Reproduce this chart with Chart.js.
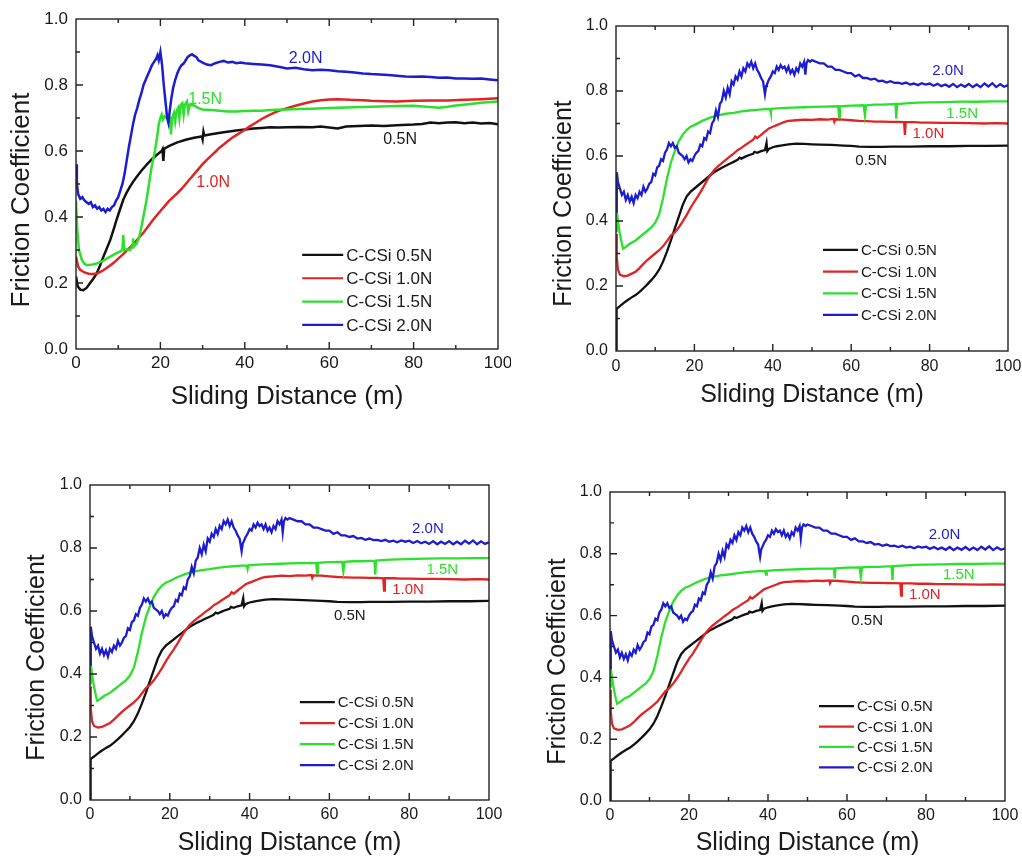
<!DOCTYPE html>
<html>
<head>
<meta charset="utf-8">
<script src="https://cdn.jsdelivr.net/npm/chart.js@4.4.1/dist/chart.umd.min.js"></script>
<style>
  body { margin: 0; background: #fff; width: 1022px; height: 856px; position: relative; overflow: hidden; }
  canvas { position: absolute; }
</style>
</head>
<body>
<canvas id="c1" width="511" height="420" style="left:0;top:0"></canvas>
<canvas id="c2" width="511" height="420" style="left:511px;top:0"></canvas>
<canvas id="c3" width="511" height="426" style="left:0;top:430px"></canvas>
<canvas id="c4" width="511" height="426" style="left:511px;top:430px"></canvas>
<script>
// series info
const loadNames = ['C-CSi 0.5N', 'C-CSi 1.0N', 'C-CSi 1.5N', 'C-CSi 2.0N']
const loadTags = ['0.5N', '1.0N', '1.5N', '2.0N']
const loadColors = ['#111111', '#e02424', '#2ee02e', '#1d1dcf']
const xTickValues = [0, 20, 40, 60, 80, 100]
const yTickValues = [0, 0.2, 0.4, 0.6, 0.8, 1.0]

// panel 1 (top left) : [distance m, friction coefficient]
const p1Load05 = [[0,0.22],[0.4,0.19],[1,0.18],[1.7,0.178],[2.5,0.185],[3.3,0.199],[4.1,0.213],[4.9,0.229],[5.7,0.253],[6.5,0.28],[7.3,0.305],[8.1,0.33],[8.9,0.362],[9.6,0.391],[10.4,0.422],[11.2,0.452],[12,0.474],[12.8,0.492],[13.6,0.508],[14.4,0.522],[15.5,0.54],[16.7,0.558],[18,0.575],[19.1,0.588],[20.3,0.6],[20.5,0.605],[20.7,0.57],[20.9,0.607],[22,0.615],[24,0.626],[26,0.634],[28,0.64],[29.8,0.644],[30,0.635],[30.2,0.658],[30.4,0.647],[32,0.651],[35,0.657],[38,0.662],[40,0.665],[42,0.668],[44,0.67],[46,0.672],[48,0.671],[50,0.672],[53,0.673],[56,0.672],[58,0.674],[60,0.671],[62,0.668],[64,0.674],[67,0.676],[70,0.677],[73,0.676],[76,0.678],[80,0.68],[82,0.682],[84,0.686],[86,0.684],[88,0.686],[90,0.687],[92,0.684],[94,0.686],[96,0.683],[98,0.685],[100,0.681]]
const p1Load10 = [[0,0.28],[0.5,0.25],[1,0.24],[2,0.232],[3,0.228],[4,0.227],[5,0.229],[6,0.235],[7,0.243],[8,0.252],[9,0.262],[10,0.274],[11,0.285],[12,0.298],[13,0.31],[14,0.324],[15,0.338],[16,0.353],[17,0.37],[18,0.387],[19,0.403],[20,0.418],[21,0.433],[22,0.448],[23,0.46],[24,0.472],[25,0.485],[26,0.5],[27,0.515],[28,0.53],[29,0.545],[30,0.56],[31,0.573],[32,0.585],[33,0.597],[34,0.61],[35,0.62],[36,0.63],[37,0.64],[38,0.648],[39,0.656],[40,0.664],[41,0.673],[42.5,0.685],[44,0.697],[45.5,0.707],[47,0.716],[48.5,0.724],[50,0.73],[52,0.737],[54,0.744],[56,0.75],[58,0.754],[60,0.756],[62,0.757],[65,0.755],[68,0.754],[70,0.752],[73,0.751],[76,0.75],[80,0.752],[84,0.753],[88,0.753],[92,0.755],[96,0.757],[100,0.76]]
const p1Load15 = [[0,0.45],[0.3,0.36],[0.7,0.3],[1.4,0.27],[2,0.258],[2.6,0.254],[3.5,0.255],[4.9,0.259],[6.5,0.268],[8.1,0.28],[9.3,0.288],[10.4,0.295],[11,0.3],[11.2,0.345],[11.4,0.3],[12,0.302],[12.8,0.3],[13.3,0.31],[13.5,0.335],[13.7,0.31],[14.4,0.32],[15,0.34],[15.5,0.37],[16.1,0.41],[16.7,0.45],[17.3,0.5],[17.9,0.55],[18.7,0.6],[19.2,0.64],[19.6,0.68],[20,0.7],[20.3,0.71],[20.6,0.695],[21,0.705],[21.5,0.7],[22,0.705],[22.3,0.7],[22.5,0.65],[22.8,0.7],[23.2,0.715],[23.5,0.69],[23.8,0.72],[24.2,0.73],[24.5,0.7],[24.8,0.74],[25.2,0.745],[25.5,0.71],[25.8,0.74],[26.3,0.75],[26.6,0.72],[27,0.74],[28,0.738],[29,0.73],[30,0.726],[32,0.724],[34,0.722],[36,0.72],[38,0.72],[40,0.721],[42,0.722],[44,0.722],[46,0.724],[48,0.725],[50,0.726],[53,0.727],[56,0.728],[60,0.73],[64,0.732],[68,0.733],[72,0.735],[76,0.736],[80,0.737],[83,0.734],[86,0.731],[88,0.734],[90,0.738],[93,0.742],[96,0.746],[100,0.75]]
const p1Load20 = [[0,0.56],[0.2,0.5],[0.5,0.47],[1,0.455],[1.5,0.46],[2,0.45],[2.5,0.445],[3,0.44],[3.5,0.445],[4,0.43],[4.5,0.435],[5,0.425],[5.5,0.43],[6,0.42],[6.5,0.425],[7,0.415],[7.5,0.425],[8,0.42],[8.5,0.43],[9,0.435],[9.5,0.45],[10,0.46],[10.5,0.48],[11,0.5],[11.5,0.53],[12,0.57],[12.5,0.61],[13,0.645],[13.5,0.68],[14,0.71],[14.5,0.73],[15,0.755],[15.5,0.775],[16,0.8],[16.5,0.815],[17,0.83],[17.5,0.845],[18,0.86],[18.5,0.87],[19,0.88],[19.3,0.89],[19.6,0.875],[20,0.9],[20.4,0.86],[20.8,0.8],[21.2,0.75],[21.6,0.7],[21.9,0.685],[22.2,0.72],[22.6,0.76],[23,0.79],[23.5,0.815],[24,0.835],[24.5,0.85],[25,0.86],[25.5,0.865],[26,0.875],[26.5,0.885],[27,0.89],[27.5,0.893],[28,0.888],[28.5,0.885],[29,0.875],[30,0.868],[31,0.862],[32,0.86],[33,0.866],[34,0.87],[35,0.873],[36,0.868],[37,0.87],[38,0.866],[39,0.868],[40,0.866],[42,0.864],[44,0.862],[46,0.86],[48,0.855],[50,0.85],[52,0.852],[54,0.848],[56,0.845],[58,0.846],[60,0.845],[62,0.842],[64,0.84],[66,0.838],[68,0.835],[70,0.833],[72,0.832],[74,0.83],[76,0.828],[78,0.826],[80,0.825],[82,0.826],[84,0.824],[86,0.822],[88,0.823],[90,0.82],[92,0.82],[94,0.819],[96,0.82],[98,0.817],[100,0.814]]
const p1TagSpots = [[76.8,0.635],[32.5,0.504],[30.6,0.755],[54.4,0.88]]

// panels 2-4 (same run shown three times)
const p2Load05 = [[0,0.0],[0.1,0.1],[0.2,0.13],[1,0.138],[2,0.148],[3,0.157],[4,0.165],[5,0.172],[6,0.182],[7,0.193],[8,0.205],[9,0.218],[10,0.232],[11,0.25],[12,0.275],[13,0.306],[14,0.34],[15,0.377],[16,0.413],[17,0.449],[18,0.475],[19,0.49],[20,0.5],[21,0.51],[22,0.52],[23,0.53],[24,0.54],[25,0.55],[26,0.557],[27,0.564],[28,0.57],[29,0.576],[30,0.582],[31,0.588],[31.5,0.595],[32,0.592],[33,0.598],[34,0.603],[35,0.607],[35.3,0.613],[36,0.61],[37,0.615],[38,0.618],[38.4,0.64],[38.6,0.615],[39,0.622],[40,0.627],[41,0.63],[42,0.632],[44,0.636],[46,0.638],[48,0.637],[50,0.636],[52,0.635],[55,0.634],[58,0.632],[60,0.631],[62,0.629],[65,0.628],[68,0.628],[70,0.629],[75,0.629],[80,0.63],[85,0.63],[90,0.631],[95,0.631],[100,0.632]]
const p2Load10 = [[0,0.36],[0.2,0.29],[0.5,0.25],[1,0.235],[2,0.23],[3,0.232],[4,0.238],[5,0.244],[6,0.255],[7,0.268],[8,0.28],[9,0.29],[10,0.3],[11,0.31],[12,0.322],[13,0.338],[14,0.355],[15,0.365],[16,0.38],[17,0.398],[18,0.418],[19,0.44],[20,0.46],[21,0.478],[22,0.498],[23,0.52],[24,0.54],[25,0.556],[26,0.568],[27,0.578],[28,0.588],[29,0.598],[30,0.607],[31,0.618],[32,0.625],[33,0.634],[34,0.642],[35,0.65],[35.5,0.66],[36,0.655],[37,0.665],[38,0.675],[39,0.685],[40,0.69],[41,0.695],[42,0.7],[43,0.705],[44,0.708],[46,0.71],[48,0.712],[50,0.711],[52,0.713],[54,0.712],[55.5,0.714],[55.7,0.705],[56,0.713],[58,0.712],[60,0.71],[62,0.708],[64,0.707],[66,0.706],[68,0.706],[70,0.705],[72,0.705],[73.5,0.704],[73.7,0.665],[73.9,0.704],[76,0.704],[78,0.703],[80,0.703],[83,0.702],[86,0.702],[90,0.701],[94,0.7],[97,0.701],[100,0.7]]
const p2Load15 = [[0,0.37],[0.2,0.43],[0.5,0.4],[1,0.36],[1.5,0.33],[1.8,0.315],[2.5,0.32],[3.5,0.33],[5,0.34],[6,0.35],[7,0.36],[8,0.37],[9,0.38],[10,0.395],[11,0.42],[12,0.47],[13,0.53],[14,0.58],[15,0.615],[16,0.645],[17,0.665],[18,0.68],[19,0.69],[20,0.695],[22,0.708],[24,0.718],[26,0.725],[28,0.73],[30,0.733],[32,0.737],[34,0.74],[36,0.742],[38,0.744],[39.3,0.744],[39.5,0.733],[39.7,0.745],[42,0.747],[45,0.749],[48,0.75],[50,0.751],[53,0.752],[56.7,0.753],[56.9,0.72],[57.1,0.753],[60,0.755],[63.2,0.756],[63.5,0.725],[63.8,0.756],[66,0.758],[68,0.758],[71.3,0.76],[71.5,0.715],[71.7,0.76],[74,0.762],[77,0.764],[80,0.765],[84,0.766],[88,0.767],[92,0.767],[96,0.768],[100,0.768]]
const p2Load20 = [[0,0.43],[0.2,0.55],[0.5,0.52],[1,0.5],[1.5,0.48],[2,0.49],[2.5,0.465],[3,0.48],[3.5,0.46],[4,0.475],[4.5,0.455],[5,0.48],[5.5,0.47],[6,0.49],[6.5,0.48],[7,0.505],[7.5,0.49],[8,0.5],[8.5,0.515],[9,0.52],[9.5,0.545],[10,0.54],[10.5,0.565],[11,0.57],[11.5,0.59],[12,0.585],[12.5,0.61],[13,0.62],[13.5,0.64],[14,0.63],[14.5,0.64],[15,0.625],[15.5,0.63],[16,0.61],[16.5,0.605],[17,0.6],[17.5,0.59],[18,0.6],[18.5,0.58],[19,0.59],[19.5,0.585],[20,0.6],[20.5,0.61],[21,0.615],[21.5,0.635],[22,0.63],[22.5,0.655],[23,0.65],[23.5,0.675],[24,0.67],[24.5,0.7],[25,0.71],[25.5,0.74],[26,0.72],[26.5,0.76],[27,0.77],[27.5,0.8],[28,0.78],[28.5,0.81],[29,0.79],[29.5,0.83],[30,0.82],[30.5,0.845],[31,0.835],[31.5,0.86],[32,0.845],[32.5,0.87],[33,0.86],[33.5,0.885],[34,0.875],[34.5,0.89],[35,0.87],[35.5,0.885],[36,0.865],[36.5,0.855],[37,0.84],[37.5,0.83],[38,0.79],[38.3,0.815],[38.5,0.82],[39,0.835],[39.5,0.845],[40,0.86],[40.5,0.855],[41,0.875],[41.5,0.865],[42,0.88],[42.5,0.87],[43,0.875],[43.5,0.86],[44,0.875],[44.5,0.855],[45,0.865],[45.5,0.85],[46,0.87],[46.5,0.86],[47,0.885],[47.5,0.875],[48,0.89],[48.3,0.85],[48.6,0.885],[49,0.895],[49.5,0.89],[50,0.895],[51,0.89],[52,0.885],[53,0.885],[54,0.875],[55,0.875],[56,0.865],[57,0.865],[58,0.86],[59,0.855],[60,0.855],[61,0.845],[62,0.85],[63,0.84],[64,0.84],[65,0.835],[66,0.838],[67,0.83],[68,0.832],[69,0.826],[70,0.83],[71,0.825],[72,0.826],[73,0.822],[74,0.826],[75,0.82],[76,0.823],[77,0.818],[78,0.824],[79,0.82],[80,0.823],[81,0.816],[82,0.822],[83,0.815],[84,0.82],[85,0.813],[86,0.822],[87,0.812],[88,0.82],[89,0.813],[90,0.822],[91,0.812],[92,0.82],[93,0.812],[94,0.823],[95,0.814],[96,0.824],[97,0.812],[98,0.821],[99,0.813],[100,0.818]]
const p2TagSpots = [[65.1,0.584],[79.7,0.667],[88.3,0.731],[84.7,0.861]]

const FONT = '"Liberation Sans", Arial, sans-serif'

// frame, inward ticks, y title, legend and curve tags
const extras = {
  id: 'extras',
  afterDatasetsDraw(chart, args, o) {
    const { ctx, chartArea: a, scales: { x, y } } = chart
    const w = a.right - a.left, h = a.bottom - a.top
    ctx.save()
    ctx.strokeStyle = '#222'
    ctx.lineWidth = 1.4
    ctx.strokeRect(a.left, a.top, w, h)
    ctx.beginPath()
    for (let v = 10; v < 100; v += 10) {
      const px = x.getPixelForValue(v), len = v % 20 ? 4 : 7
      ctx.moveTo(px, a.bottom); ctx.lineTo(px, a.bottom - len)
      ctx.moveTo(px, a.top); ctx.lineTo(px, a.top + len)
    }
    for (let i = 1; i < 10; i++) {
      const py = y.getPixelForValue(i / 10), len = i % 2 ? 4 : 7
      ctx.moveTo(a.left, py); ctx.lineTo(a.left + len, py)
    }
    ctx.stroke()

    // y axis title
    ctx.fillStyle = '#1a1a1a'
    ctx.font = o.titleSize + 'px ' + FONT
    ctx.textAlign = 'center'
    ctx.textBaseline = 'middle'
    ctx.translate(o.yTitleX, (a.top + a.bottom) / 2 + o.yTitleShift)
    ctx.rotate(-Math.PI / 2)
    ctx.fillText('Friction Coefficient', 0, 0)
    ctx.setTransform(1, 0, 0, 1, 0, 0)

    // legend
    ctx.font = o.legendSize + 'px ' + FONT
    ctx.textAlign = 'left'
    loadNames.forEach((name, i) => {
      const lx = a.left + o.legendX * w, ly = a.top + (o.legendY + i * o.legendStep) * h
      ctx.strokeStyle = loadColors[i]
      ctx.lineWidth = 2.2
      ctx.beginPath(); ctx.moveTo(lx, ly); ctx.lineTo(lx + o.legendLen, ly); ctx.stroke()
      ctx.fillStyle = '#1a1a1a'
      ctx.fillText(name, lx + o.legendLen + 3, ly + 1)
    })

    // curve tags
    ctx.font = o.tagSize + 'px ' + FONT
    ctx.textAlign = 'center'
    o.tags.forEach((s, i) => {
      ctx.fillStyle = i === 0 ? '#1a1a1a' : loadColors[i]
      ctx.fillText(loadTags[i], x.getPixelForValue(s[0]), y.getPixelForValue(s[1]))
    })
    ctx.restore()
  }
}

function makePanel(id, series, tags, L) {
  new Chart(document.getElementById(id), {
    type: 'scatter',
    data: {
      datasets: series.map((s, i) => ({
        label: loadNames[i],
        data: s.map(p => ({ x: p[0], y: p[1] })),
        showLine: true,
        borderColor: loadColors[i],
        borderWidth: L.lineWidth,
        pointRadius: 0,
        tension: 0,
        order: 3 - i
      }))
    },
    options: {
      responsive: false,
      animation: false,
      layout: { padding: { top: L.top, right: L.right, left: 0, bottom: 0 } },
      plugins: {
        legend: { display: false },
        tooltip: { enabled: false },
        extras: {
          titleSize: L.titleSize, yTitleX: L.yTitleX, yTitleShift: L.yTitleShift,
          legendSize: L.legendSize, legendX: L.legendX, legendY: L.legendY,
          legendStep: L.legendStep, legendLen: L.legendLen,
          tagSize: L.tagSize, tags: tags
        }
      },
      scales: {
        x: {
          type: 'linear', min: 0, max: 100,
          afterBuildTicks: s => { s.ticks = xTickValues.map(v => ({ value: v })) },
          ticks: { color: '#1a1a1a', font: { family: FONT, size: L.tickSize }, padding: L.xTickPad, maxRotation: 0 },
          grid: { display: false, drawTicks: false },
          border: { display: false },
          title: { display: true, text: 'Sliding Distance (m)', color: '#1a1a1a',
                   font: { family: FONT, size: L.titleSize, lineHeight: 1 }, padding: { top: 0, bottom: L.xTitlePad } },
          afterFit: s => { s.height = L.bottom; s.paddingLeft = 0; s.paddingRight = 0 }
        },
        y: {
          type: 'linear', min: 0, max: 1,
          afterBuildTicks: s => { s.ticks = yTickValues.map(v => ({ value: v })) },
          ticks: { color: '#1a1a1a', font: { family: FONT, size: L.tickSize }, padding: 8,
                   callback: v => Number(v).toFixed(1) },
          grid: { display: false, drawTicks: false },
          border: { display: false },
          afterFit: s => { s.width = L.left; s.paddingTop = 0; s.paddingBottom = 0 }
        }
      }
    },
    plugins: [extras]
  })
}

const p1Series = [p1Load05, p1Load10, p1Load15, p1Load20]
const p2Series = [p2Load05, p2Load10, p2Load15, p2Load20]

makePanel('c1', p1Series, p1TagSpots, {
  left: 76, right: 13, top: 19, bottom: 71, lineWidth: 2.5,
  tickSize: 17, xTickPad: 4, titleSize: 26, xTitlePad: 10, yTitleX: 22, yTitleShift: 16,
  legendSize: 17, legendX: 0.536, legendY: 0.715, legendStep: 0.0706, legendLen: 41, tagSize: 16
})
makePanel('c2', p2Series, p2TagSpots, {
  left: 105, right: 14, top: 26, bottom: 69, lineWidth: 2.3,
  tickSize: 16, xTickPad: 6, titleSize: 25, xTitlePad: 12, yTitleX: 53, yTitleShift: 15,
  legendSize: 15, legendX: 0.528, legendY: 0.689, legendStep: 0.0667, legendLen: 35, tagSize: 15
})
makePanel('c3', p2Series, p2TagSpots, {
  left: 90, right: 22, top: 55, bottom: 56, lineWidth: 2.3,
  tickSize: 16, xTickPad: 5, titleSize: 25, xTitlePad: 0, yTitleX: 37, yTitleShift: 15,
  legendSize: 15, legendX: 0.526, legendY: 0.689, legendStep: 0.0667, legendLen: 35, tagSize: 15
})
makePanel('c4', p2Series, p2TagSpots, {
  left: 99, right: 17, top: 62, bottom: 55, lineWidth: 2.3,
  tickSize: 16, xTickPad: 5, titleSize: 25, xTitlePad: 0, yTitleX: 47, yTitleShift: 15,
  legendSize: 15, legendX: 0.529, legendY: 0.693, legendStep: 0.066, legendLen: 35, tagSize: 15
})
</script>
</body>
</html>
